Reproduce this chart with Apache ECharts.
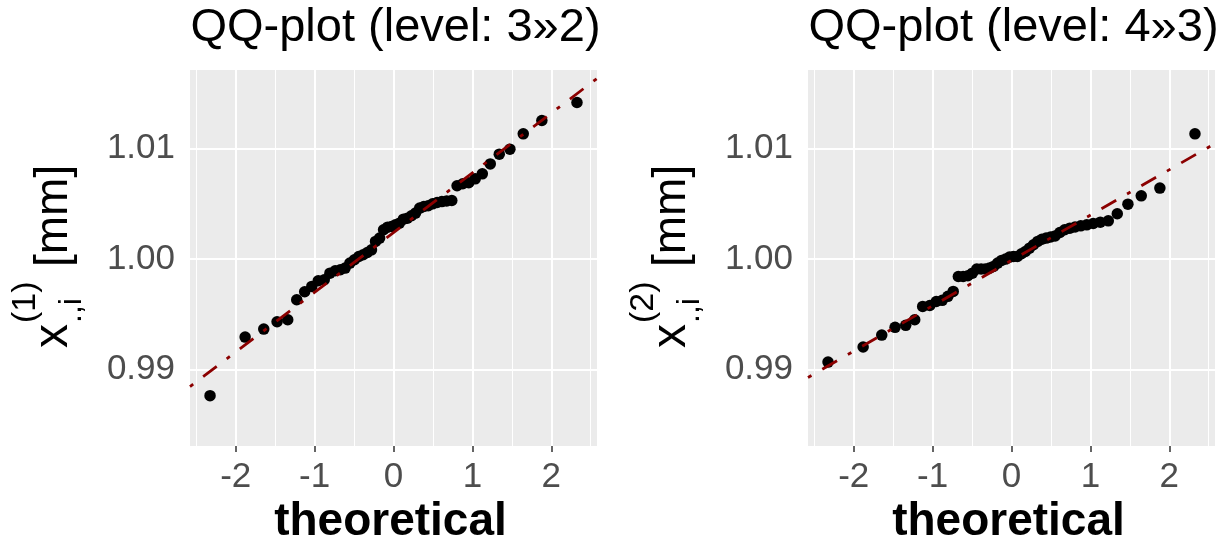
<!DOCTYPE html>
<html>
<head>
<meta charset="utf-8">
<script src="https://cdn.jsdelivr.net/npm/echarts@6/dist/echarts.min.js"></script>
<style>
  html, body { margin: 0; padding: 0; background: #ffffff; }
  #chart { width: 1230px; height: 548px; }
</style>
</head>
<body>
<div id="chart"></div>
<script>
// Theoretical normal quantiles (n = 50)
const theoretical = [-2.326, -1.881, -1.645, -1.476, -1.341, -1.227, -1.126, -1.036, -0.954, -0.878,
  -0.806, -0.739, -0.674, -0.613, -0.553, -0.496, -0.440, -0.385, -0.332, -0.279,
  -0.228, -0.176, -0.126, -0.075, -0.025, 0.025, 0.075, 0.126, 0.176, 0.228,
  0.279, 0.332, 0.385, 0.440, 0.496, 0.553, 0.613, 0.674, 0.739, 0.806,
  0.878, 0.954, 1.036, 1.126, 1.227, 1.341, 1.476, 1.645, 1.881, 2.326];

// Sorted sample values [mm], level 3»2
const sampleLevel32 = [0.98765, 0.99295, 0.99367, 0.99434, 0.99452, 0.99633, 0.99705, 0.99753, 0.99804, 0.99813,
  0.99873, 0.99895, 0.99904, 0.99919, 0.99964, 0.99994, 1.00024, 1.00039, 1.00060, 1.00084,
  1.00160, 1.00190, 1.00265, 1.00289, 1.00295, 1.00310, 1.00325, 1.00361, 1.00370, 1.00392,
  1.00416, 1.00461, 1.00476, 1.00482, 1.00500, 1.00512, 1.00520, 1.00525, 1.00530, 1.00663,
  1.00681, 1.00690, 1.00726, 1.00771, 1.00861, 1.00949, 1.00994, 1.01133, 1.01253, 1.01416];

// Sorted sample values [mm], level 4»3
const sampleLevel43 = [0.99069, 0.99205, 0.99313, 0.99383, 0.99401, 0.99452, 0.99572, 0.99580, 0.99617, 0.99627,
  0.99663, 0.99708, 0.99843, 0.99843, 0.99850, 0.99873, 0.99910, 0.99910, 0.99910, 0.99919,
  0.99934, 0.99964, 0.99988, 1.00000, 1.00018, 1.00024, 1.00024, 1.00048, 1.00069, 1.00099,
  1.00130, 1.00160, 1.00180, 1.00190, 1.00200, 1.00210, 1.00241, 1.00265, 1.00280, 1.00290,
  1.00301, 1.00310, 1.00322, 1.00334, 1.00346, 1.00410, 1.00497, 1.00572, 1.00642, 1.01133];

// Reference lines (intercept, slope) per panel
const lineIntercept = [1.0024, 0.99988];
const lineSlope = [0.0054, 0.0041];

const panelTitles = ['QQ-plot (level: 3»2)', 'QQ-plot (level: 4»3)'];
const panelSuperscripts = ['(1)', '(2)'];
const xAxisTitle = 'theoretical';

const xTicks = [-2, -1, 0, 1, 2];
const xMinor = [-2.5, -1.5, -0.5, 0.5, 1.5, 2.5];
const yTicks = [0.99, 1.00, 1.01];
const yMinor = [0.985, 0.995, 1.005, 1.015];
const xRange = [-2.58, 2.58];
const yRange = [0.9831, 1.0171];

const samples = [sampleLevel32, sampleLevel43];

const FONT = "'Liberation Sans', Arial, sans-serif";
const panels = [
  { left: 190, top: 70, width: 407, height: 376 },
  { left: 808, top: 70, width: 407, height: 376 }
];

const chart = echarts.init(document.getElementById('chart'), null, { renderer: 'canvas' });

const grids = panels.map(p => ({
  left: p.left, top: p.top, width: p.width, height: p.height,
  show: true, backgroundColor: '#EBEBEB', borderWidth: 0, containLabel: false
}));

const xAxes = panels.map((p, i) => ({
  type: 'value', gridIndex: i, min: xRange[0], max: xRange[1],
  axisLine: { show: false },
  axisTick: { show: true, length: 6, customValues: xTicks, lineStyle: { color: '#333333', width: 1.5 } },
  axisLabel: { customValues: xTicks, margin: 14, fontSize: 35, fontFamily: FONT, color: '#4D4D4D',
    formatter: v => String(v) },
  splitLine: { show: false }
}));

const yAxes = panels.map((p, i) => ({
  type: 'value', gridIndex: i, min: yRange[0], max: yRange[1],
  axisLine: { show: false },
  axisTick: { show: true, length: 6, customValues: yTicks, lineStyle: { color: '#333333', width: 1.5 } },
  axisLabel: { customValues: yTicks, margin: 15, fontSize: 35, fontFamily: FONT, color: '#4D4D4D',
    formatter: v => v.toFixed(2) },
  splitLine: { show: false }
}));

function gridLines() {
  const white = w => ({ color: '#FFFFFF', width: w, type: 'solid' });
  const d = [];
  xMinor.forEach(v => d.push({ xAxis: v, lineStyle: white(1) }));
  yMinor.forEach(v => d.push({ yAxis: v, lineStyle: white(1) }));
  xTicks.forEach(v => d.push({ xAxis: v, lineStyle: white(2) }));
  yTicks.forEach(v => d.push({ yAxis: v, lineStyle: white(2) }));
  return d;
}

const series = [];
panels.forEach((p, i) => {
  // background grid lines
  series.push({
    type: 'scatter', xAxisIndex: i, yAxisIndex: i, data: [], silent: true, z: 1,
    markLine: {
      silent: true, z: 1, symbol: ['none', 'none'], label: { show: false },
      animation: false, emphasis: { disabled: true },
      data: gridLines()
    }
  });
  // sample points
  series.push({
    type: 'scatter', xAxisIndex: i, yAxisIndex: i, z: 2,
    symbol: 'circle', symbolSize: 11.5,
    itemStyle: { color: '#000000', opacity: 1 },
    data: theoretical.map((t, k) => [t, samples[i][k]])
  });
  // reference line
  const a = lineIntercept[i], b = lineSlope[i];
  series.push({
    type: 'line', xAxisIndex: i, yAxisIndex: i, z: 3, clip: true,
    showSymbol: false, symbol: 'none', silent: true,
    lineStyle: { color: '#8B0000', width: 2.8, type: [4, 12.5, 17, 12.5], cap: 'butt', opacity: 1 },
    data: xRange.map(x => [x, a + b * x])
  });
});

const graphics = [];
panels.forEach((p, i) => {
  const cx = p.left + p.width / 2;
  graphics.push({
    type: 'text', x: cx + 2, y: 28,
    style: { text: panelTitles[i], font: `47px ${FONT}`, fill: '#000000',
      align: 'center', verticalAlign: 'middle', textAlign: 'center', textVerticalAlign: 'middle' }
  });
  graphics.push({
    type: 'text', x: cx - 3, y: 522,
    style: { text: xAxisTitle, font: `bold 46px ${FONT}`, fill: '#000000',
      align: 'center', verticalAlign: 'middle', textAlign: 'center', textVerticalAlign: 'middle' }
  });
  // rotated y-axis title: x with sub/superscript and unit
  const t = (text, lx, ly, size) => ({
    type: 'text', x: lx, y: ly,
    style: { text, font: `${size}px ${FONT}`, fill: '#000000',
      align: 'left', verticalAlign: 'middle', textAlign: 'left', textVerticalAlign: 'middle' }
  });
  graphics.push({
    type: 'group', x: p.left - 190, y: 348, rotation: Math.PI / 2,
    children: [
      t('x', 0, 54, 48),
      t(panelSuperscripts[i], 25, 26, 34),
      t('.,i', 25, 72, 32),
      t('[mm]', 81, 54, 46)
    ]
  });
});

chart.setOption({
  animation: false,
  backgroundColor: '#FFFFFF',
  grid: grids,
  xAxis: xAxes,
  yAxis: yAxes,
  series: series,
  graphic: { elements: graphics }
});
</script>
</body>
</html>
